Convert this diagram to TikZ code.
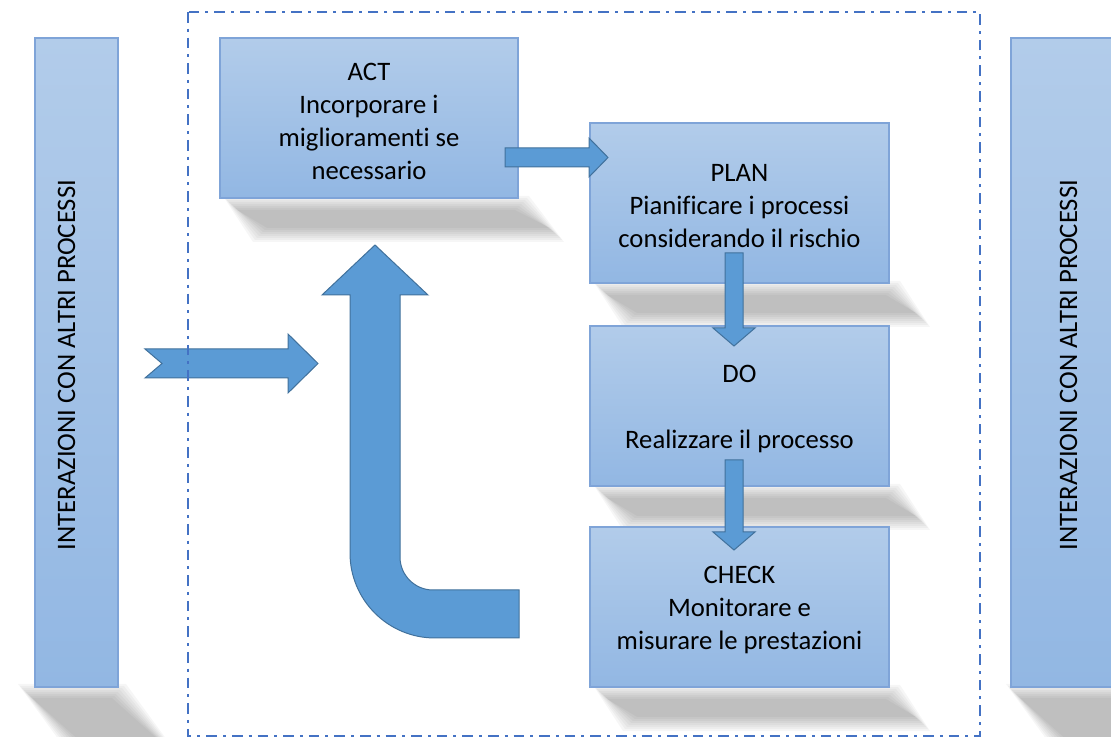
\documentclass[tikz,border=0pt]{standalone}
\usepackage{fontspec}
\setmainfont[Ligatures=NoCommon]{Carlito}
\usetikzlibrary{calc}
\definecolor{boxtop}{HTML}{B2CCEA}
\definecolor{boxbot}{HTML}{92B7E3}
\definecolor{boxedge}{HTML}{7FA4D8}
\definecolor{arrowfill}{HTML}{5B9BD5}
\definecolor{arrowedge}{HTML}{41719C}
\definecolor{framecol}{HTML}{4472C4}
\tikzset{
 pbox/.style={draw=boxedge, line width=0.9pt, top color=boxtop, bottom color=boxbot, outer sep=0pt, inner sep=0pt, minimum height=120pt},
 boxtext/.style={align=center, font=\fontsize{20}{24.75}\selectfont, text=black, inner sep=0pt, yshift=-2.4pt},
 sidebox/.style={draw=boxedge, line width=0.9pt, top color=boxtop, bottom color=boxbot, outer sep=0pt, minimum height=486.75pt},
 sidelabel/.style={rotate=90, font=\fontsize{20}{24}\selectfont, inner sep=0pt, text=black},
 blockarrow/.style={fill=arrowfill, draw=arrowedge, line width=0.75pt, line join=miter},
 frameline/.style={draw=framecol, line width=1.9pt, dash pattern=on 8pt off 4.5pt on 2.2pt off 4.5pt},
 shadowlayer/.style={fill=black, fill opacity=0.034},
}
% perspective shadow: x0 x1 ytop ybottom shiftleft shiftright
\newcommand\pshadow[6]{%
 \foreach \k in {-6,-4,...,8}{%
  \fill[shadowlayer] ({#1+\k},{#3+\k}) -- ({#2-\k},{#3+\k}) -- ({#2+#6-\k},{#4-\k}) -- ({#1+#5+\k},{#4-\k}) -- cycle;}}
% right block arrow: start, tip, half shaft, half head, head length
\newcommand\rarrow[5]{%
 \draw[blockarrow] ($(#1)+(0,-#3)$) -- ($(#2)+(-#5,-#3)$) -- ($(#2)+(-#5,-#4)$) -- (#2) -- ($(#2)+(-#5,#4)$) -- ($(#2)+(-#5,#3)$) -- ($(#1)+(0,#3)$) -- cycle;}
% down block arrow
\newcommand\darrow[5]{%
 \draw[blockarrow] ($(#1)+(-#3,0)$) -- ($(#2)+(-#3,-#5)$) -- ($(#2)+(-#4,-#5)$) -- (#2) -- ($(#2)+(#4,-#5)$) -- ($(#2)+(#3,-#5)$) -- ($(#1)+(#3,0)$) -- cycle;}
\begin{document}
\begin{tikzpicture}[x=0.75pt,y=-0.75pt]
\useasboundingbox (0,0) rectangle (1111,737);
\clip (0,0) rectangle (1111,737);
% shadows
\pshadow{24}{120}{690}{760}{60}{60}
\pshadow{1012}{1160}{690}{760}{60}{60}
\pshadow{229}{523}{202}{236}{30}{35}
\pshadow{599}{894}{287}{321}{30}{30}
\pshadow{599}{894}{490}{524}{30}{30}
\pshadow{599}{894}{691}{725}{30}{30}
% side boxes
\node[sidebox, minimum width=62.25pt] (left) at (76.5,362.5) {};
\node[sidebox, minimum width=112.5pt] (right) at (1086,362.5) {};
\node[sidelabel] (leftlbl) at (66.5,365) {INTERAZIONI CON ALTRI PROCESSI};
\node[sidelabel] (rightlbl) at (1068.5,365) {INTERAZIONI CON ALTRI PROCESSI};
% PDCA boxes
\node[pbox, minimum width=223.5pt, label={[boxtext]center:ACT\\Incorporare i\\miglioramenti se\\necessario}] (act) at (369,118) {};
\node[pbox, minimum width=224.25pt, label={[boxtext]center:PLAN\\Pianificare i processi\\considerando il rischio}] (plan) at (739.5,203) {};
\node[pbox, minimum width=224.25pt, label={[boxtext]center:DO\\\strut\\Realizzare il processo}] (do) at (739.5,406) {};
\node[pbox, minimum width=224.25pt, label={[boxtext]center:CHECK\\Monitorare e\\misurare le prestazioni}] (check) at (739.5,607) {};
% connector coordinates
\coordinate (a1s) at ($(act.east)+(-13,39.5)$);
\coordinate (a1e) at ($(plan.west)+(18,-45.5)$);
\coordinate (a2s) at ($(plan.south)+(-5.5,-30)$);
\coordinate (a2e) at ($(do.north)+(-5.5,20)$);
\coordinate (a3s) at ($(do.south)+(-5.5,-26)$);
\coordinate (a3e) at ($(check.north)+(-5.5,23)$);
\coordinate (la0) at ($(left.east)+(27,1)$);
\coordinate (la1) at (318,363.5);
% arrows
\rarrow{a1s}{a1e}{9.5}{19.5}{19}
\darrow{a2s}{a2e}{9}{21}{18}
\darrow{a3s}{a3e}{9}{21}{18}
% notched input arrow
\draw[blockarrow] (la0) ++(0,-14.5) -- ($(la1)+(-30,-14.5)$) -- ($(la1)+(-30,-29.5)$) -- (la1) -- ($(la1)+(-30,29.5)$) -- ($(la1)+(-30,14.5)$) -- ($(la0)+(0,14.5)$) -- ($(la0)+(17,0)$) -- cycle;
% U-turn arrow (CHECK back to ACT)
\draw[blockarrow] (519,590) -- (433,590) .. controls (414.8,590) and (400,575.2) .. (400,557) -- (400,295) -- (428,295) -- (375,245) -- (322,295) -- (350,295) -- (350,553) .. controls (350,600) and (388,638) .. (435,638) -- (519,638) -- cycle;
% dashed frame
\draw[frameline] (188,12) rectangle (980,736);
\end{tikzpicture}
\end{document}
